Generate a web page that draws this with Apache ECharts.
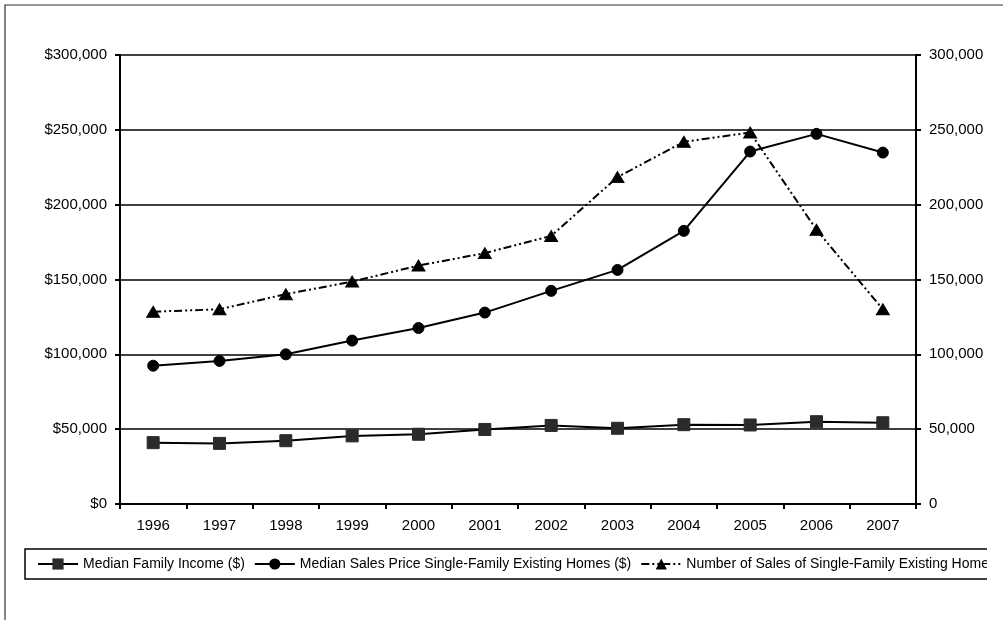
<!DOCTYPE html>
<html>
<head>
<meta charset="utf-8">
<script src="https://cdn.jsdelivr.net/npm/echarts@6/dist/echarts.min.js"></script>
<style>
html,body{margin:0;padding:0;background:#fff;}
#chart{width:1003px;height:620px;}
</style>
</head>
<body>
<div id="chart"></div>
<script>
const years = ['1996','1997','1998','1999','2000','2001','2002','2003','2004','2005','2006','2007'];
const medianIncome = [41000, 40500, 42300, 45500, 46600, 49800, 52500, 50600, 53000, 52800, 55000, 54300];
const medianPrice = [92400, 95600, 100000, 109200, 117600, 127900, 142400, 156400, 182500, 235500, 247300, 234800];
const numSales = [128500, 130100, 140200, 148600, 159300, 167600, 179100, 218400, 242000, 248200, 183200, 130100];
const seriesNames = ['Median Family Income ($)', 'Median Sales Price Single-Family Existing Homes ($)', 'Number of Sales of Single-Family Existing Homes'];

const font = 'Liberation Sans, Arial, sans-serif';
const chart = echarts.init(document.getElementById('chart'));
const fmt = v => v.toString().replace(/\B(?=(\d{3})+(?!\d))/g, ',');

chart.setOption({
  animation: false,
  backgroundColor: '#fff',
  textStyle: { fontFamily: font, color: '#000' },
  grid: { left: 120, right: 87, top: 55, bottom: 116, containLabel: false },
  xAxis: {
    type: 'category',
    data: years,
    boundaryGap: true,
    axisLine: { lineStyle: { color: '#000', width: 2 } },
    axisTick: { show: true, length: 5, lineStyle: { color: '#000', width: 2 } },
    axisLabel: { color: '#000', fontSize: 15, fontFamily: font, margin: 14 }
  },
  yAxis: [
    {
      type: 'value', min: 0, max: 300000, interval: 50000,
      axisLine: { show: true, lineStyle: { color: '#000', width: 2 } },
      axisTick: { show: true, length: 5, lineStyle: { color: '#000', width: 2 } },
      axisLabel: { color: '#000', fontSize: 15, fontFamily: font, margin: 13, formatter: v => '$' + fmt(v) },
      splitLine: { show: true, lineStyle: { color: '#000', width: 1.5 } }
    },
    {
      type: 'value', min: 0, max: 300000, interval: 50000, position: 'right',
      axisLine: { show: true, lineStyle: { color: '#000', width: 2 } },
      axisTick: { show: true, length: 5, lineStyle: { color: '#000', width: 2 } },
      axisLabel: { color: '#000', fontSize: 15, fontFamily: font, margin: 13, formatter: v => fmt(v) },
      splitLine: { show: false }
    }
  ],
  legend: {
    left: 25, top: 549, width: 1500,
    orient: 'horizontal',
    padding: [8, 10, 8, 12],
    itemWidth: 40, itemHeight: 14, itemGap: 9,
    borderColor: '#000', borderWidth: 1.5,
    textStyle: { color: '#000', fontSize: 14, fontFamily: font },
    data: seriesNames
  },
  graphic: [
    { type: 'rect', z: 100, silent: true, shape: { x: 987, y: 540, width: 30, height: 50 }, style: { fill: '#fff' } },
    { type: 'rect', z: 101, silent: true, shape: { x: 5, y: 5, width: 1100, height: 1000 }, style: { fill: 'none', stroke: '#333', lineWidth: 1.2 } }
  ],
  series: [
    {
      name: seriesNames[0], type: 'line', data: medianIncome, yAxisIndex: 0,
      symbol: 'rect', symbolSize: 12,
      lineStyle: { color: '#000', width: 2 },
      itemStyle: { color: '#2b2b2b', borderColor: '#2b2b2b' }, z: 3
    },
    {
      name: seriesNames[1], type: 'line', data: medianPrice, yAxisIndex: 0,
      symbol: 'circle', symbolSize: 11,
      lineStyle: { color: '#000', width: 2 },
      itemStyle: { color: '#000', borderColor: '#000' }, z: 3
    },
    {
      name: seriesNames[2], type: 'line', data: numSales, yAxisIndex: 1,
      symbol: 'triangle', symbolSize: [13, 11],
      lineStyle: { color: '#000', width: 2, type: [8, 3, 2, 3, 2, 3] },
      itemStyle: { color: '#000', borderColor: '#000' }, z: 3
    }
  ]
});
</script>
</body>
</html>
